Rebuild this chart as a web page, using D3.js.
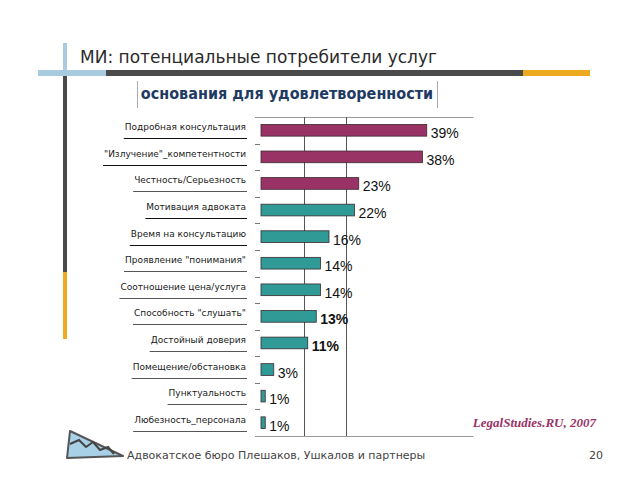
<!DOCTYPE html>
<html>
<head>
<meta charset="utf-8">
<script src="https://cdn.jsdelivr.net/npm/d3@7"></script>
<style>
  body { margin: 0; background: #fff; }
</style>
</head>
<body>
<svg id="chart" width="640" height="480"></svg>
<script>
var categories = [
  "Подробная консультация",
  "\"Излучение\"_компетентности",
  "Честность/Серьезность",
  "Мотивация адвоката",
  "Время на консультацию",
  "Проявление \"понимания\"",
  "Соотношение цена/услуга",
  "Способность \"слушать\"",
  "Достойный доверия",
  "Помещение/обстановка",
  "Пунктуальность",
  "Любезность_персонала"
];
var values = [39, 38, 23, 22, 16, 14, 14, 13, 11, 3, 1, 1];
var gridValues = [10, 20];

var title = "МИ: потенциальные потребители услуг";
var subtitle = "основания для удовлетворенности";
var source = "LegalStudies.RU, 2007";
var footer = "Адвокатское бюро Плешаков, Ушкалов и партнеры";
var pageNum = "20";

var svg = d3.select("#chart");

// slide frame: cross of bars top-left
svg.append("rect").attr("x", 38).attr("y", 70).attr("width", 68).attr("height", 6).attr("fill", "#a9cbe0");
svg.append("rect").attr("x", 106).attr("y", 70).attr("width", 417).attr("height", 6).attr("fill", "#4a4a4a");
svg.append("rect").attr("x", 523).attr("y", 70).attr("width", 67).attr("height", 6).attr("fill", "#eeaa1e");
svg.append("rect").attr("x", 63).attr("y", 43).attr("width", 4).attr("height", 27).attr("fill", "#a9cbe0");
svg.append("rect").attr("x", 63).attr("y", 76).attr("width", 4).attr("height", 196).attr("fill", "#4a4a4a");
svg.append("rect").attr("x", 63).attr("y", 272).attr("width", 4).attr("height", 67).attr("fill", "#eeaa1e");

svg.append("text")
  .attr("x", 80).attr("y", 63)
  .attr("font-family", "DejaVu Sans, Verdana, sans-serif")
  .attr("font-size", 17)
  .attr("fill", "#2a2a2a")
  .text(title);

// subtitle box
svg.append("line").attr("x1", 137.5).attr("x2", 137.5).attr("y1", 81).attr("y2", 108).attr("stroke", "#aaa");
svg.append("line").attr("x1", 437.5).attr("x2", 437.5).attr("y1", 81).attr("y2", 108).attr("stroke", "#aaa");
svg.append("text")
  .attr("x", 287).attr("y", 99)
  .attr("text-anchor", "middle")
  .attr("font-family", "DejaVu Sans Condensed, DejaVu Sans, sans-serif")
  .attr("font-weight", "bold")
  .attr("font-size", 16)
  .attr("fill", "#1f3b63")
  .text(subtitle);

// chart
var x = d3.scaleLinear().domain([0, 50]).range([261, 473.5]);
var y = d3.scaleBand().domain(categories).range([117, 436]).paddingInner(0.56).paddingOuter(0.28);
var step = y.step();

var rows = categories.map(function(c, i) { return { name: c, value: values[i], i: i }; });

// frame lines top/bottom
svg.append("line").attr("x1", 255).attr("x2", 473.5).attr("y1", 117.5).attr("y2", 117.5).attr("stroke", "#999");
svg.append("line").attr("x1", 255).attr("x2", 473.5).attr("y1", 436.5).attr("y2", 436.5).attr("stroke", "#999");

svg.selectAll(".grid")
  .data(gridValues)
  .enter().append("line")
  .attr("class", "grid")
  .attr("x1", function(d) { return Math.round(x(d)) + 0.5; })
  .attr("x2", function(d) { return Math.round(x(d)) + 0.5; })
  .attr("y1", 117).attr("y2", 436)
  .attr("stroke", "#555");

// ticks between categories
svg.selectAll(".tick-b")
  .data(d3.range(1, categories.length))
  .enter().append("line")
  .attr("class", "tick-b")
  .attr("x1", 255).attr("x2", 260)
  .attr("y1", function(k) { return Math.round(117 + k * step) + 0.5; })
  .attr("y2", function(k) { return Math.round(117 + k * step) + 0.5; })
  .attr("stroke", "#777");

svg.selectAll(".bar")
  .data(rows)
  .enter().append("rect")
  .attr("class", "bar")
  .attr("x", x(0))
  .attr("y", function(d) { return y(d.name); })
  .attr("width", function(d) { return x(d.value) - x(0); })
  .attr("height", y.bandwidth())
  .attr("fill", function(d) { return d.i < 3 ? "#993366" : "#2f9a96"; })
  .attr("stroke", "#3a2a30")
  .attr("stroke-width", 0.8);

svg.selectAll(".val")
  .data(rows)
  .enter().append("text")
  .attr("class", "val")
  .attr("x", function(d) { return x(d.value) + 4; })
  .attr("y", function(d) { return y(d.name) + y.bandwidth() / 2 + 8; })
  .attr("font-family", "Liberation Sans, Arial, sans-serif")
  .attr("font-size", 14)
  .attr("font-weight", function(d) { return d.i == 7 || d.i == 8 ? "bold" : null; })
  .attr("fill", "#111")
  .text(function(d) { return d.value + "%"; });

var labels = svg.selectAll(".lab")
  .data(rows)
  .enter().append("text")
  .attr("class", "lab")
  .attr("x", 246)
  .attr("y", function(d) { return y(d.name) + y.bandwidth() / 2 + 0; })
  .attr("text-anchor", "end")
  .attr("font-family", "DejaVu Sans, Verdana, sans-serif")
  .attr("font-size", 9)
  .attr("fill", "#1a1a1a")
  .text(function(d) { return d.name; });

labels.each(function(d) {
  var w = this.getComputedTextLength();
  var yy = Math.round(y(d.name) + y.bandwidth() / 2 + 8) + 0.5;
  svg.append("line")
    .attr("x1", 246 - w - 1).attr("x2", 247)
    .attr("y1", yy).attr("y2", yy)
    .attr("stroke", d.i < 2 || d.i == 3 || d.i == 4 ? "#111" : "#555")
    .attr("stroke-width", 1);
});

svg.append("text")
  .attr("x", 596).attr("y", 427)
  .attr("text-anchor", "end")
  .attr("font-family", "Liberation Serif, Times New Roman, serif")
  .attr("font-style", "italic")
  .attr("font-weight", "bold")
  .attr("font-size", 13)
  .attr("fill", "#993366")
  .text(source);

// footer logo
svg.append("polygon")
  .attr("points", "70,431 123,456 67,458")
  .attr("fill", "#a8d0e6")
  .attr("stroke", "#555")
  .attr("stroke-width", 2)
  .attr("stroke-linejoin", "round");
svg.append("path")
  .attr("d", "M70,444 L79,440 L86,447 L93,442 L100,450 L108,447 L114,454")
  .attr("fill", "none")
  .attr("stroke", "#444")
  .attr("stroke-width", 2);

svg.append("text")
  .attr("x", 127).attr("y", 459)
  .attr("font-family", "DejaVu Sans, Verdana, sans-serif")
  .attr("font-size", 11)
  .attr("fill", "#444")
  .text(footer);

svg.append("text")
  .attr("x", 603).attr("y", 459)
  .attr("text-anchor", "end")
  .attr("font-family", "DejaVu Sans, Verdana, sans-serif")
  .attr("font-size", 11)
  .attr("fill", "#444")
  .text(pageNum);
</script>
</body>
</html>
